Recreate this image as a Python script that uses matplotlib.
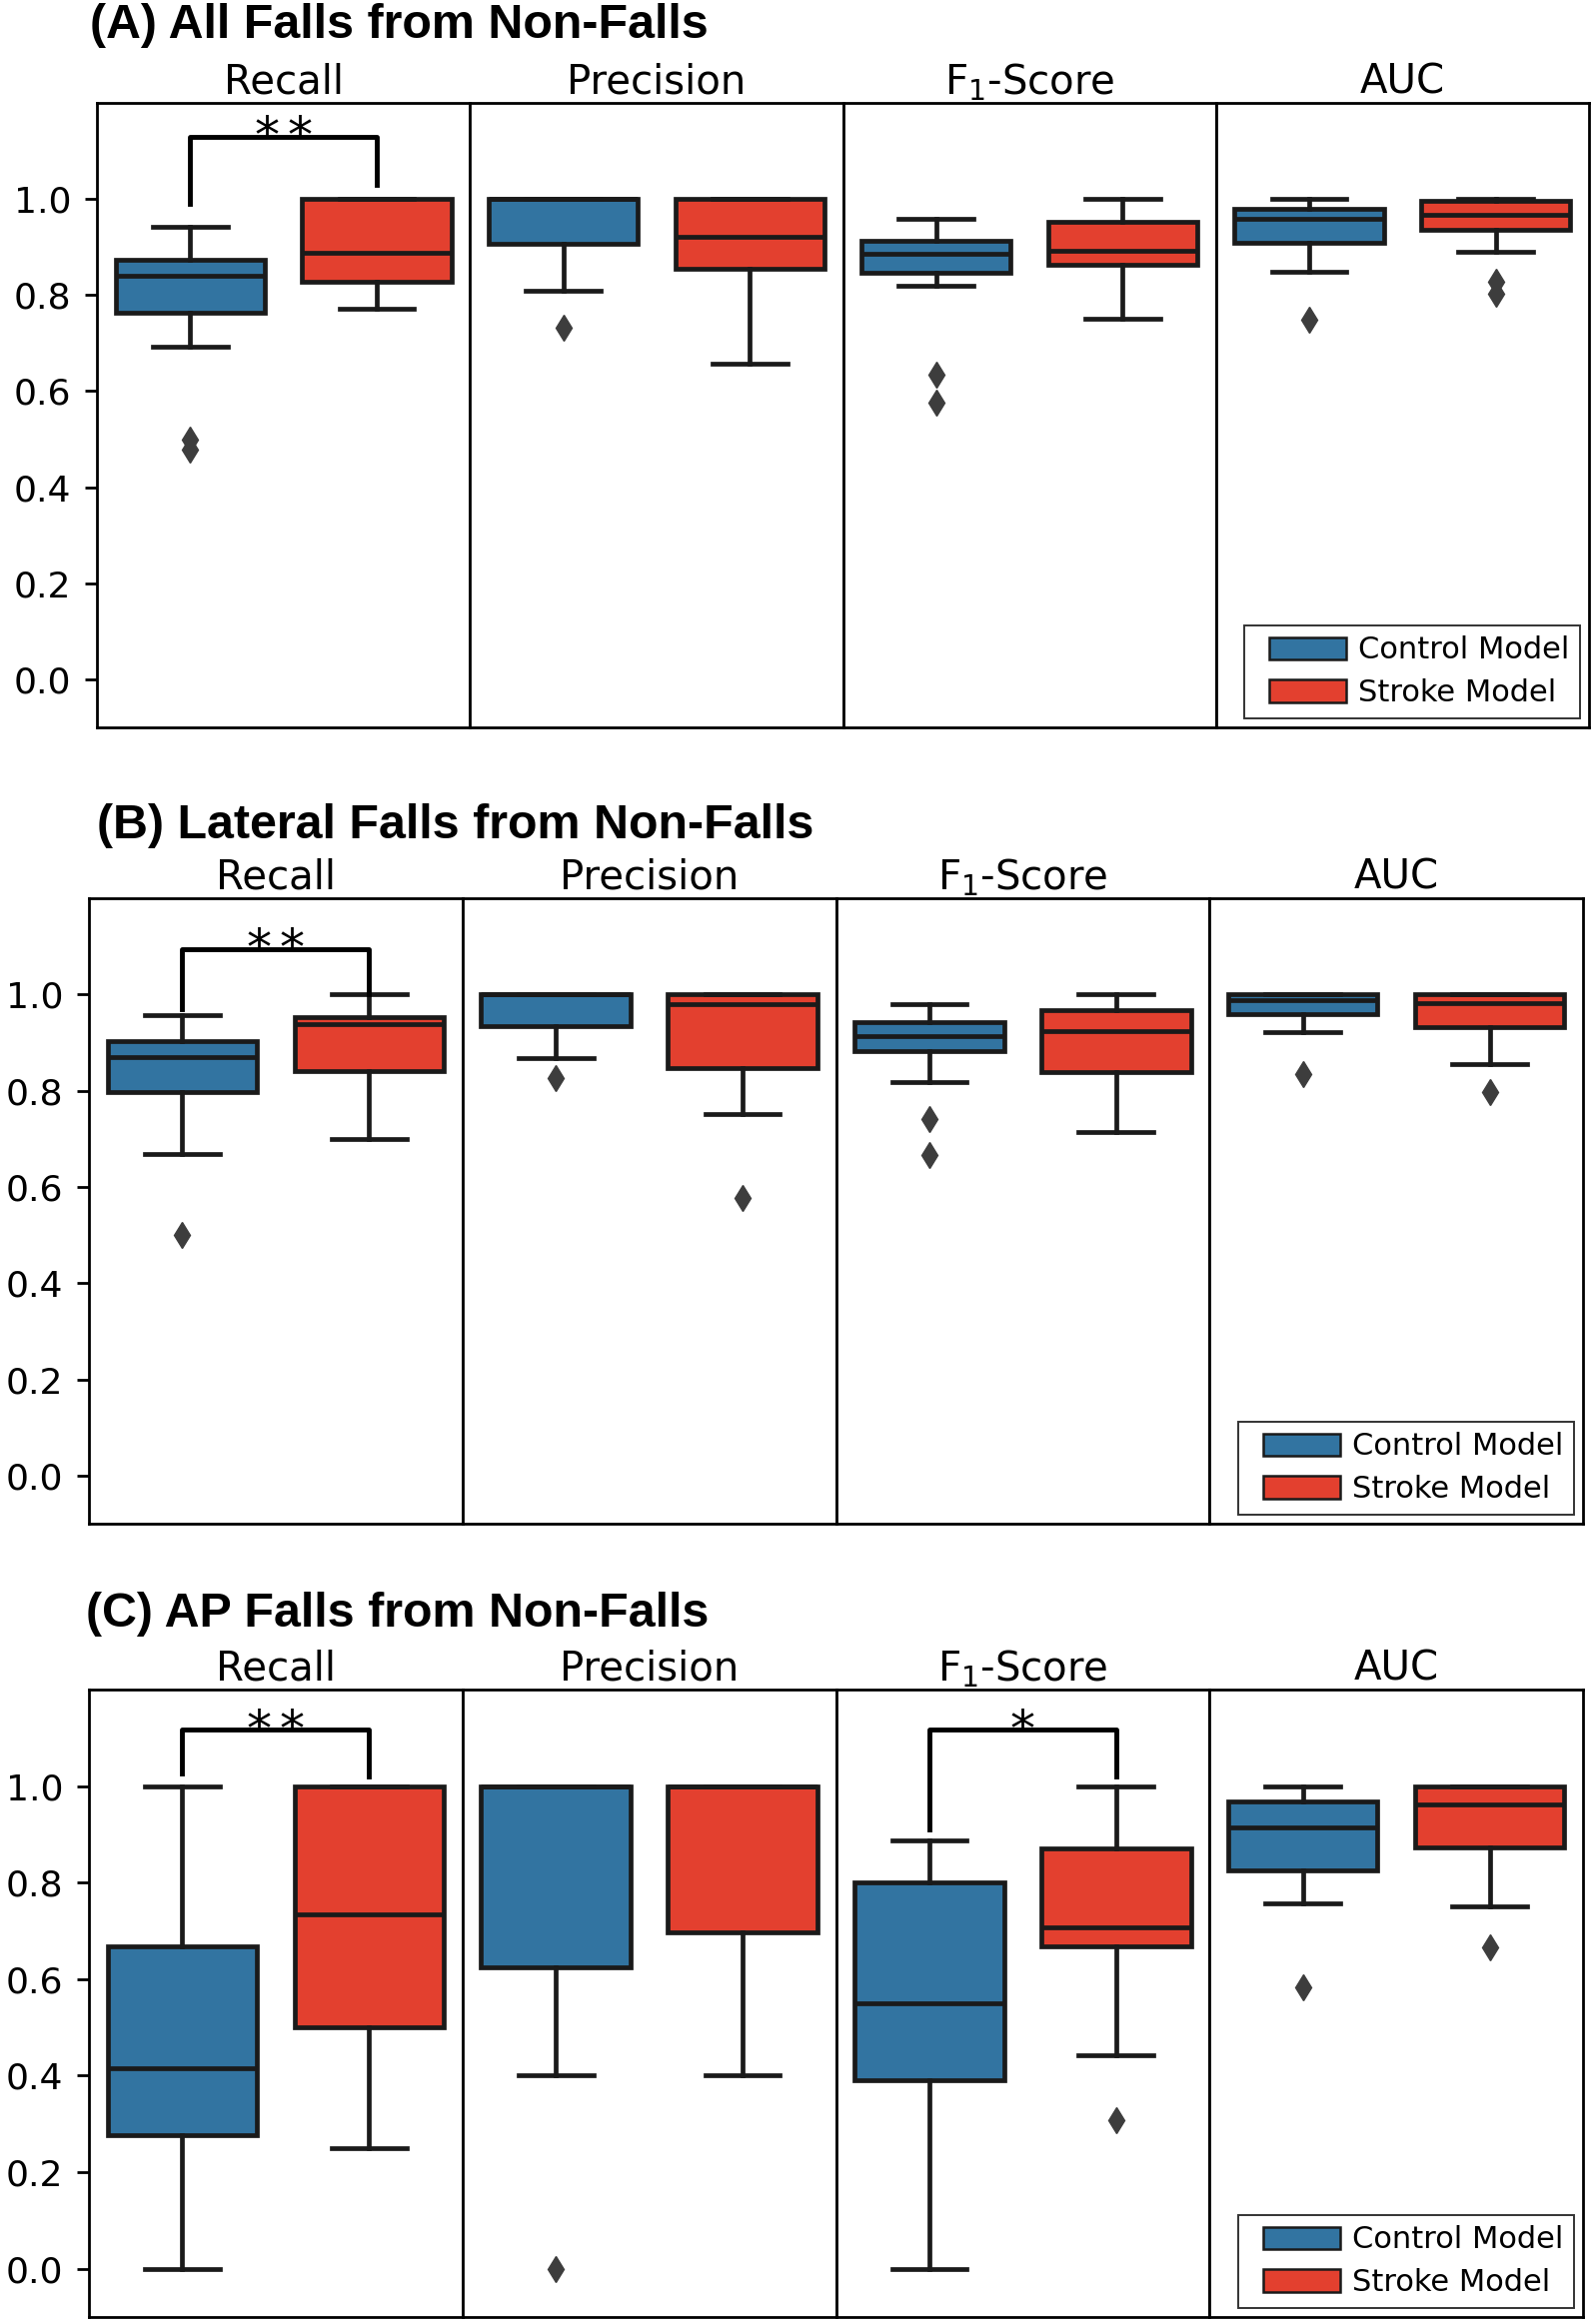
import matplotlib
matplotlib.use("Agg")
import matplotlib.pyplot as plt
from matplotlib.patches import Patch
from matplotlib.legend_handler import HandlerPatch

# ---------------- data ----------------
metrics = ["Recall", "Precision", r"$\mathrm{F}_1$-Score", "AUC"]
models = ["Control Model", "Stroke Model"]
panel_titles = ["(A) All Falls from Non-Falls",
                "(B) Lateral Falls from Non-Falls",
                "(C) AP Falls from Non-Falls"]
yticks = [0.0, 0.2, 0.4, 0.6, 0.8, 1.0]
ytick_labels = ["0.0", "0.2", "0.4", "0.6", "0.8", "1.0"]

# rows: panel A, B, C ; columns: Recall, Precision, F1, AUC
control_whislo = [[0.692, 0.809, 0.819, 0.848],
                  [0.668, 0.868, 0.818, 0.922],
                  [0.000, 0.400, 0.000, 0.757]]
control_q1 = [[0.764, 0.906, 0.846, 0.909],
              [0.798, 0.935, 0.882, 0.959],
              [0.277, 0.625, 0.390, 0.825]]
control_med = [[0.841, 1.000, 0.885, 0.958],
               [0.869, 1.000, 0.914, 0.989],
               [0.415, 1.000, 0.550, 0.915]]
control_q3 = [[0.873, 1.000, 0.912, 0.980],
              [0.902, 1.000, 0.942, 1.000],
              [0.667, 1.000, 0.800, 0.968]]
control_whishi = [[0.943, 1.000, 0.958, 1.000],
                  [0.957, 1.000, 0.979, 1.000],
                  [1.000, 1.000, 0.888, 1.000]]
control_fliers = [[[0.499, 0.479], [0.733], [0.635, 0.577], [0.748]],
                  [[0.500], [0.826], [0.741, 0.666], [0.834]],
                  [[], [0.000], [], [0.583]]]

stroke_whislo = [[0.772, 0.658, 0.750, 0.890],
                 [0.700, 0.751, 0.714, 0.856],
                 [0.250, 0.400, 0.443, 0.750]]
stroke_q1 = [[0.828, 0.855, 0.863, 0.936],
             [0.841, 0.848, 0.838, 0.932],
             [0.500, 0.698, 0.667, 0.872]]
stroke_med = [[0.889, 0.922, 0.892, 0.968],
              [0.939, 0.980, 0.924, 0.982],
              [0.735, 1.000, 0.708, 0.962]]
stroke_q3 = [[1.000, 1.000, 0.953, 0.996],
             [0.952, 1.000, 0.967, 1.000],
             [1.000, 1.000, 0.870, 1.000]]
stroke_whishi = [[1.000, 1.000, 1.000, 1.000],
                 [1.000, 1.000, 1.000, 1.000],
                 [1.000, 1.000, 1.000, 1.000]]
stroke_fliers = [[[], [], [], [0.828, 0.802]],
                 [[], [0.577], [], [0.798]],
                 [[], [], [0.307], [0.665]]]

# significance annotations
sig_panel = [0, 1, 2, 2]
sig_metric = [0, 0, 0, 2]
sig_text = ["**", "**", "**", "*"]
sig_top = [1.13, 1.095, 1.117, 1.117]
sig_left_end = [0.99, 0.97, 1.027, 0.91]
sig_right_end = [1.03, 1.0, 1.02, 1.02]

# ---------------- style / layout ----------------
W, H, DPI = 1594, 2326, 100
colors = ["#3274a1", "#e3402f"]
line_col = "#1a1a1a"
flier_col = "#3d3d3d"
positions = [-0.25, 0.25]
box_w = 0.4
star_step = 0.088

panel_px = [(97, 1590, 103, 728), (89, 1584, 899, 1525), (89, 1584, 1691, 2319)]
title_px = [(90, 25), (97, 826), (86, 1616)]

plt.rcParams['font.family'] = ['DejaVu Sans']
fig = plt.figure(figsize=(W / DPI, H / DPI), dpi=DPI)

all_axes = []
for p in range(3):
    left, right, top, bottom = panel_px[p]
    aw = (right - left) / 4.0
    row = []
    for i in range(4):
        ax = fig.add_axes([(left + i * aw) / W, 1 - bottom / H, aw / W, (bottom - top) / H])
        stats = [
            dict(med=control_med[p][i], q1=control_q1[p][i], q3=control_q3[p][i],
                 whislo=control_whislo[p][i], whishi=control_whishi[p][i],
                 fliers=control_fliers[p][i]),
            dict(med=stroke_med[p][i], q1=stroke_q1[p][i], q3=stroke_q3[p][i],
                 whislo=stroke_whislo[p][i], whishi=stroke_whishi[p][i],
                 fliers=stroke_fliers[p][i]),
        ]
        lw = 3.4
        res = ax.bxp(stats, positions=positions, widths=box_w, patch_artist=True,
                     manage_ticks=False,
                     boxprops=dict(edgecolor=line_col, linewidth=lw),
                     medianprops=dict(color=line_col, linewidth=lw),
                     whiskerprops=dict(color=line_col, linewidth=lw),
                     capprops=dict(color=line_col, linewidth=lw),
                     flierprops=dict(marker='d', markerfacecolor=flier_col,
                                     markeredgecolor=flier_col, markersize=13,
                                     linestyle='none'))
        for b, c in zip(res['boxes'], colors):
            b.set_facecolor(c)
        ax.set_xlim(-0.5, 0.5)
        ax.set_ylim(-0.1, 1.2)
        ax.set_xticks([])
        if i == 0:
            ax.set_yticks(yticks)
            ax.set_yticklabels(ytick_labels)
            ax.tick_params(axis='y', length=8.5, width=2, pad=10, labelsize=26)
        else:
            ax.set_yticks([])
        for s in ax.spines.values():
            s.set_linewidth(2)
            s.set_color('black')
        ax.set_title(metrics[i], fontsize=29, pad=5)
        row.append(ax)
    all_axes.append(row)

    # legend in last axes
    handles = [Patch(facecolor=c, edgecolor=line_col, linewidth=1.8) for c in colors]
    leg = row[3].legend(handles, models, loc='lower right', fontsize=22,
                        fancybox=False, framealpha=1, edgecolor='#333333',
                        borderaxespad=0.3, handlelength=2.98, handleheight=0.75,
                        handletextpad=0.4, labelspacing=0.45, borderpad=0.35,
                        handler_map={Patch: HandlerPatch(xpad=0.47)})
    leg.get_frame().set_linewidth(1.4)

    tx, ty = title_px[p]
    fig.text(tx / W, 1 - ty / H, panel_titles[p], fontsize=34.8, fontweight='bold',
             family='Liberation Sans', ha='left', va='center')

for k in range(len(sig_panel)):
    ax = all_axes[sig_panel[k]][sig_metric[k]]
    x0, x1 = positions
    ax.plot([x0, x0, x1, x1],
            [sig_left_end[k], sig_top[k], sig_top[k], sig_right_end[k]],
            color='black', linewidth=3.5, clip_on=False)
    n = len(sig_text[k])
    for j, ch in enumerate(sig_text[k]):
        xs = (j - (n - 1) / 2.0) * star_step
        ax.text(xs, sig_top[k] - 0.032, ch, ha='center', va='baseline',
                fontsize=36, color='black')

fig.savefig("out.png", dpi=DPI)
